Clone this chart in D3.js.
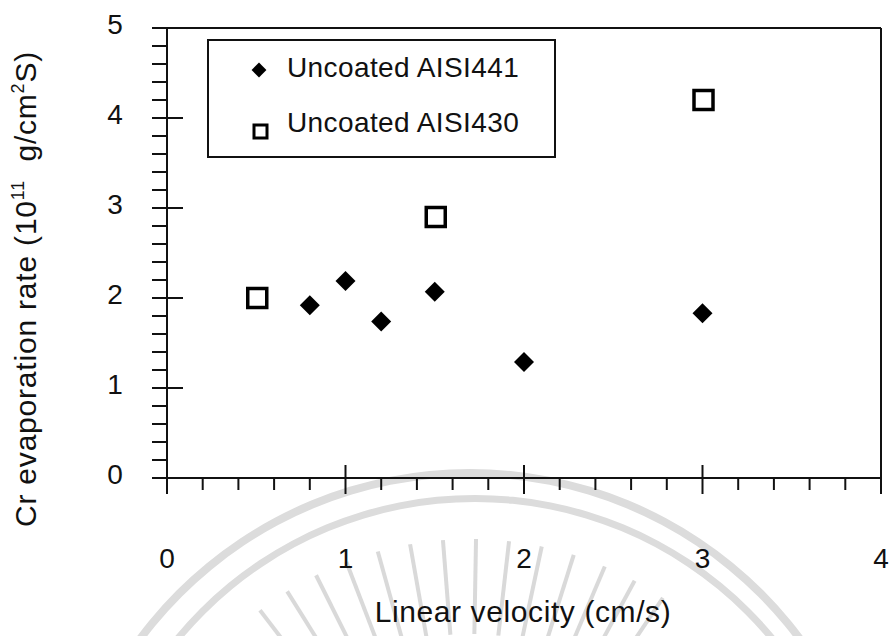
<!DOCTYPE html>
<html>
<head>
<meta charset="utf-8">
<script src="https://cdn.jsdelivr.net/npm/d3@7"></script>
<style>
  body { margin: 0; background: #fff; }
  text { font-family: "Liberation Sans", Arial, sans-serif; fill: #111; }
</style>
</head>
<body>
<div id="chart"></div>
<script>
var width = 891,
    height = 636;

var margin = {top: 28, right: 10, bottom: 158, left: 167};

// data
var seriesNames = ["Uncoated AISI441", "Uncoated AISI430"];
var aisi441X = [0.8, 1.0, 1.2, 1.5, 2.0, 3.0];
var aisi441Y = [1.92, 2.19, 1.74, 2.07, 1.29, 1.83];
var aisi430X = [0.5, 1.5, 3.0];
var aisi430Y = [2.0, 2.9, 4.2];
var xTicks = [0, 1, 2, 3, 4];
var yTicks = [0, 1, 2, 3, 4, 5];

var svg = d3.select("#chart")
  .append("svg")
    .attr("width", width)
    .attr("height", height);

// faint watermark behind the chart
var wm = svg.append("g").attr("stroke", "#d9d9d9").attr("fill", "none");
var wmArc = d3.arc().startAngle(-Math.PI / 2).endAngle(Math.PI / 2);
wm.append("path")
  .attr("d", wmArc({innerRadius: 407, outerRadius: 415}))
  .attr("transform", "translate(470,884)")
  .attr("fill", "#dcdcdc").attr("stroke", "none");
wm.append("path")
  .attr("d", wmArc({innerRadius: 382, outerRadius: 389}))
  .attr("transform", "translate(475,884)")
  .attr("fill", "#dcdcdc").attr("stroke", "none");
wm.selectAll("ray")
  .data(d3.range(56, 132, 5.5))
  .enter()
  .append("line")
    .attr("x1", function(a) { return 470 + 250 * Math.cos(a * Math.PI / 180); })
    .attr("y1", function(a) { return 884 - 250 * Math.sin(a * Math.PI / 180); })
    .attr("x2", function(a) { return 470 + 345 * Math.cos(a * Math.PI / 180); })
    .attr("y2", function(a) { return 884 - 345 * Math.sin(a * Math.PI / 180); })
    .attr("stroke-width", 4);

var x = d3.scaleLinear()
  .domain([0, 4])
  .range([margin.left, 881]);

var y = d3.scaleLinear()
  .domain([0, 5])
  .range([478, margin.top]);

var axisColor = "#111";

// frame: top and right lines
svg.append("line")
  .attr("x1", 155).attr("x2", x(4))
  .attr("y1", y(5)).attr("y2", y(5))
  .attr("stroke", axisColor).attr("stroke-width", 2);
svg.append("line")
  .attr("x1", x(4)).attr("x2", x(4))
  .attr("y1", y(5)).attr("y2", y(0) + 16)
  .attr("stroke", axisColor).attr("stroke-width", 2);

// y axis
var yMinor = d3.range(0, 5.001, 0.2);
var yAxis = svg.append("g");
yAxis.append("line")
  .attr("x1", x(0)).attr("x2", x(0))
  .attr("y1", y(5)).attr("y2", y(0) + 15)
  .attr("stroke", axisColor).attr("stroke-width", 2);
yAxis.selectAll("minor")
  .data(yMinor)
  .enter()
  .append("line")
    .attr("x1", x(0) - 15)
    .attr("x2", function(d) {
      var major = Math.abs(d - Math.round(d)) < 1e-6 && d > 0 && d < 5;
      return major ? x(0) + 16 : x(0);
    })
    .attr("y1", function(d) { return y(d); })
    .attr("y2", function(d) { return y(d); })
    .attr("stroke", axisColor).attr("stroke-width", 2);
yAxis.selectAll("lab")
  .data(yTicks)
  .enter()
  .append("text")
    .attr("x", 115)
    .attr("y", function(d) { return y(d) - 4; })
    .attr("text-anchor", "middle")
    .attr("dominant-baseline", "central")
    .style("font-size", "28px")
    .text(function(d) { return d; });

// x axis
var xMinor = d3.range(0, 4.001, 0.2);
var xAxis = svg.append("g");
xAxis.append("line")
  .attr("x1", x(0) - 15).attr("x2", x(4))
  .attr("y1", y(0)).attr("y2", y(0))
  .attr("stroke", axisColor).attr("stroke-width", 2);
xAxis.selectAll("minor")
  .data(xMinor)
  .enter()
  .append("line")
    .attr("x1", function(d) { return x(d); })
    .attr("x2", function(d) { return x(d); })
    .attr("y1", function(d) {
      var major = Math.abs(d - Math.round(d)) < 1e-6 && d > 0 && d < 4;
      return major ? y(0) - 13 : y(0);
    })
    .attr("y2", function(d) {
      var major = Math.abs(d - Math.round(d)) < 1e-6;
      return major ? y(0) + 16 : y(0) + 12;
    })
    .attr("stroke", axisColor).attr("stroke-width", 2);
xAxis.selectAll("lab")
  .data(xTicks)
  .enter()
  .append("text")
    .attr("x", function(d) { return x(d); })
    .attr("y", 558)
    .attr("text-anchor", "middle")
    .attr("dominant-baseline", "central")
    .style("font-size", "28px")
    .text(function(d) { return d; });

// axis titles
svg.append("text")
  .attr("x", 523)
  .attr("y", 622)
  .attr("text-anchor", "middle")
  .style("font-size", "30px")
  .style("letter-spacing", "0.6px")
  .text("Linear velocity (cm/s)");

var yTitle = svg.append("text")
  .attr("transform", "translate(36,289)rotate(-90)")
  .attr("text-anchor", "middle")
  .style("font-size", "30px")
  .style("letter-spacing", "0.8px");
yTitle.append("tspan").text("Cr evaporation rate (10");
yTitle.append("tspan").attr("dy", -12).style("font-size", "18px").text("11");
yTitle.append("tspan").attr("dy", 12).text("\u00a0\u00a0g/cm");
yTitle.append("tspan").attr("dy", -12).style("font-size", "18px").text("2");
yTitle.append("tspan").attr("dy", 12).text("S)");

// markers
var diamond = d3.symbol().type(d3.symbolSquare).size(200);

svg.selectAll("d441")
  .data(aisi441X)
  .enter()
  .append("path")
    .attr("d", diamond)
    .attr("transform", function(d, i) {
      return "translate(" + x(d) + "," + y(aisi441Y[i]) + ")rotate(45)";
    })
    .attr("fill", "#000");

var sq = 19;
svg.selectAll("s430")
  .data(aisi430X)
  .enter()
  .append("rect")
    .attr("x", function(d) { return x(d) - sq / 2 + 1; })
    .attr("y", function(d, i) { return y(aisi430Y[i]) - sq / 2; })
    .attr("width", sq)
    .attr("height", sq)
    .attr("fill", "#fff")
    .attr("stroke", "#000")
    .attr("stroke-width", 3.5);

// legend
var legend = svg.append("g");
legend.append("rect")
  .attr("x", 208).attr("y", 40)
  .attr("width", 347).attr("height", 117)
  .attr("fill", "#fff")
  .attr("stroke", axisColor).attr("stroke-width", 2);

legend.append("path")
  .attr("d", d3.symbol().type(d3.symbolSquare).size(110))
  .attr("transform", "translate(259,70)rotate(45)")
  .attr("fill", "#000");
legend.append("rect")
  .attr("x", 254).attr("y", 125)
  .attr("width", 13).attr("height", 13)
  .attr("fill", "#fff")
  .attr("stroke", "#000").attr("stroke-width", 3);

legend.selectAll("lt")
  .data(seriesNames)
  .enter()
  .append("text")
    .attr("x", 287)
    .attr("y", function(d, i) { return 77 + i * 55; })
    .style("font-size", "28px")
    .style("letter-spacing", "0.4px")
    .text(function(d) { return d; });
</script>
</body>
</html>
